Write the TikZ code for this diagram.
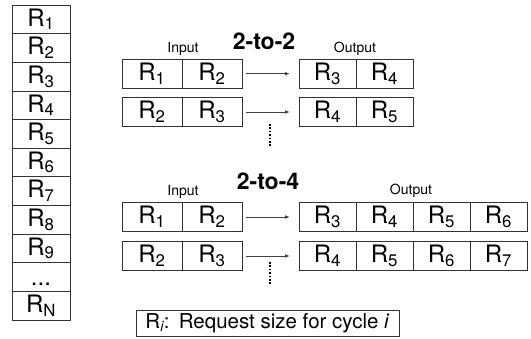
\documentclass[tikz,border=0pt]{standalone}
\usepackage{fontspec}
\setmainfont{TeX Gyre Heros}
\usetikzlibrary{arrows.meta}

\begin{document}
\begin{tikzpicture}[x=1pt, y=-1pt,
    cell/.style={draw=black!80, line width=0.7pt, minimum height=28.5pt, inner sep=0pt, font=\fontsize{24}{25}\selectfont},
    incell/.style={cell, minimum width=60pt},
    outcell/.style={cell, minimum width=57pt},
    colcell/.style={cell, minimum width=58pt, minimum height=28.64pt},
    lbl/.style={font=\fontsize{14}{15}\selectfont},
    ttl/.style={font=\fontsize{23}{24}\selectfont\bfseries},
    flow/.style={draw=black!75, line width=0.7pt, -{Latex[length=4.5pt,width=3.5pt]}, shorten <=4pt, shorten >=9pt},
    dots/.style={line width=1.7pt, dash pattern=on 1.6pt off 1.8pt}]
    \useasboundingbox (0,0) rectangle (531,339);

    % request column
    \node[colcell] (c1) at (41, 19.3) {R\textsubscript{1}};
    \node[colcell] (c2) at (41, 47.9) {R\textsubscript{2}};
    \node[colcell] (c3) at (41, 76.6) {R\textsubscript{3}};
    \node[colcell] (c4) at (41, 105.2) {R\textsubscript{4}};
    \node[colcell] (c5) at (41, 133.9) {R\textsubscript{5}};
    \node[colcell] (c6) at (41, 162.5) {R\textsubscript{6}};
    \node[colcell] (c7) at (41, 191.1) {R\textsubscript{7}};
    \node[colcell] (c8) at (41, 219.8) {R\textsubscript{8}};
    \node[colcell] (c9) at (41, 248.4) {R\textsubscript{9}};
    \node[colcell] (cdots) at (41, 277.1) {\vphantom{R}...};
    \node[colcell] (cN) at (41, 305.7) {R\textsubscript{N}};

    % 2-to-2
    \node[ttl] (t22) at (264, 41) {2-to-2};
    \node[lbl] (in22) at (183, 49) {Input};
    \node[lbl] (out22) at (355, 49) {Output};

    \node[incell] (a11) at (152, 73.7) {R\textsubscript{1}};
    \node[incell] (a12) at (212, 73.7) {R\textsubscript{2}};
    \node[outcell] (p11) at (327.5, 73.7) {R\textsubscript{3}};
    \node[outcell] (p12) at (384.5, 73.7) {R\textsubscript{4}};

    \node[incell] (a21) at (152, 112) {R\textsubscript{2}};
    \node[incell] (a22) at (212, 112) {R\textsubscript{3}};
    \node[outcell] (p21) at (327.5, 112) {R\textsubscript{4}};
    \node[outcell] (p22) at (384.5, 112) {R\textsubscript{5}};

    \path[flow]
      (a12) edge (p11)
      (a22) edge (p21);
    \draw[dots] (270, 124) -- (270, 147);

    % 2-to-4
    \node[ttl] (t24) at (268, 181) {2-to-4};
    \node[lbl] (in24) at (183, 192) {Input};
    \node[lbl] (out24) at (411, 191) {Output};

    \node[incell] (b11) at (152, 217) {R\textsubscript{1}};
    \node[incell] (b12) at (212, 217) {R\textsubscript{2}};
    \node[outcell] (q11) at (327.5, 217) {R\textsubscript{3}};
    \node[outcell] (q12) at (384.5, 217) {R\textsubscript{4}};
    \node[outcell] (q13) at (441.5, 217) {R\textsubscript{5}};
    \node[outcell] (q14) at (498.5, 217) {R\textsubscript{6}};

    \node[incell] (b21) at (152, 256) {R\textsubscript{2}};
    \node[incell] (b22) at (212, 256) {R\textsubscript{3}};
    \node[outcell] (q21) at (327.5, 256) {R\textsubscript{4}};
    \node[outcell] (q22) at (384.5, 256) {R\textsubscript{5}};
    \node[outcell] (q23) at (441.5, 256) {R\textsubscript{6}};
    \node[outcell] (q24) at (498.5, 256) {R\textsubscript{7}};

    \path[flow]
      (b12) edge (q11)
      (b22) edge (q21);
    \draw[dots] (270, 262) -- (270, 285);

    % legend
    \node[draw=black!80, line width=0.7pt, minimum width=263pt, minimum height=26pt, inner sep=0pt, font=\fontsize{20.5}{22}\selectfont] (key) at (267.5, 323) {R\textsubscript{\itshape i}:\ \,Request size for cycle \textit{i}};
  \end{tikzpicture}
\end{document}
